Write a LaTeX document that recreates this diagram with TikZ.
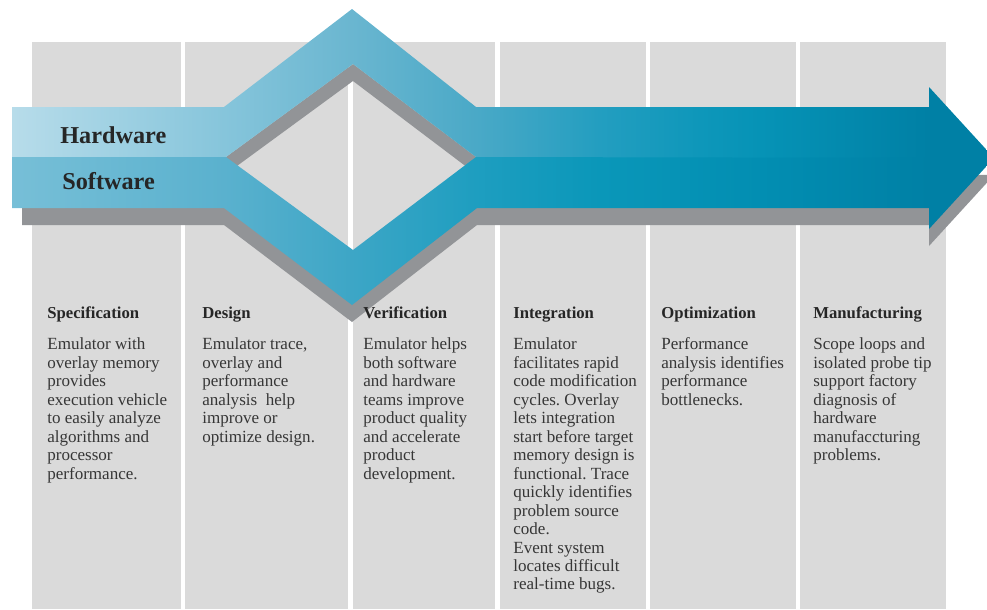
\documentclass[tikz,border=0pt]{standalone}
\usepackage{fontspec}
\setmainfont{Liberation Serif}
\usetikzlibrary{positioning}
\frenchspacing

\definecolor{paper}{HTML}{DADADA}
\definecolor{shadowgray}{HTML}{929497}
\definecolor{bodygray}{HTML}{363636}
\definecolor{headgray}{HTML}{262626}
\definecolor{hwA}{HTML}{B7DCEA}
\definecolor{hwB}{HTML}{86C5DB}
\definecolor{hwC}{HTML}{6AB6D0}
\definecolor{hwD}{HTML}{4AA9C7}
\definecolor{hwE}{HTML}{239EC0}
\definecolor{hwF}{HTML}{0E97BA}
\definecolor{hwG}{HTML}{0693B6}
\definecolor{swA}{HTML}{77BFD7}
\definecolor{swB}{HTML}{5AB1CE}
\definecolor{swC}{HTML}{3DA6C6}
\definecolor{swD}{HTML}{1E9EC0}
\definecolor{swE}{HTML}{0A97B9}
\definecolor{swG}{HTML}{028EB2}
\definecolor{arrEnd}{HTML}{0080A5}

\pgfdeclarehorizontalshading{hwshade}{100bp}{color(0bp)=(hwA); color(25bp)=(hwA);
  color(35.8bp)=(hwB); color(42.3bp)=(hwC); color(48.6bp)=(hwD); color(54.9bp)=(hwE);
  color(60bp)=(hwF); color(63.1bp)=(hwG); color(71.7bp)=(arrEnd); color(100bp)=(arrEnd)}
\pgfdeclarehorizontalshading{swshade}{100bp}{color(0bp)=(swA); color(25bp)=(swA);
  color(35.8bp)=(swB); color(42.3bp)=(swC); color(48.6bp)=(swD); color(54.9bp)=(swE);
  color(63.1bp)=(swG); color(71.7bp)=(arrEnd); color(100bp)=(arrEnd)}

\tikzset{
  phase/.style={anchor=base west, inner sep=0pt, text=headgray,
    font=\bfseries\fontsize{9.5}{11}\selectfont},
  blurb/.style={anchor=north west, inner sep=0pt, align=left, text=bodygray,
    font=\fontsize{9.7}{10.52}\selectfont},
  bandlabel/.style={anchor=base west, inner sep=0pt, text=headgray,
    font=\bfseries\fontsize{13.8}{16}\selectfont}
}

\begin{document}
\begin{tikzpicture}[x=0.02cm, y=-0.02cm]
  \useasboundingbox (0,0) rectangle (987,609);

  % paper columns
  \foreach \l/\r in {32/181, 185/348, 353/495, 500/646, 650/796, 800/946}
    \fill[paper] (\l,42) rectangle (\r,609);

  % shadows
  \fill[shadowgray] (22,174) -- (226,174) -- (353,267) -- (476,174) -- (994,175)
    -- (929,246) -- (929,225) -- (477,225) -- (352,322) -- (224,225) -- (22,225) -- cycle;
  \fill[shadowgray] (226,157) -- (353,64) -- (476,157) -- (476,174) -- (353,81)
    -- (226,174) -- cycle;

  % hardware band (reaches a little under the software band)
  \shade[shading=hwshade] (12,107) -- (224,107) -- (352,9) -- (476,107) -- (929,107)
    -- (929,87) -- (994,158) -- (476,160) -- (476,157) -- (353,64) -- (226,157)
    -- (222,160) -- (12,160) -- cycle;
  % software band
  \shade[shading=swshade] (12,157) -- (226,157) -- (353,250) -- (476,157) -- (994,158)
    -- (929,229) -- (929,208) -- (477,208) -- (352,305) -- (224,208) -- (12,208) -- cycle;

  \node (hw) [bandlabel] at (60,143) {Hardware};
  \node (sw) [bandlabel] at (62,189) {Software};

  % phases
  \node (spec) [phase] at (47,318) {Specification};
  \node (specText) [blurb] at (47,337.5) {Emulator with\\overlay memory\\provides\\execution vehicle\\to easily analyze\\algorithms and\\processor\\performance.};

  \node (design) [phase] at (202,318) {Design};
  \node (designText) [blurb] at (202,337.5) {Emulator trace,\\overlay and\\performance\\analysis~ help\\improve or\\optimize design.};

  \node (verif) [phase] at (363,318) {Verification};
  \node (verifText) [blurb] at (363,337.5) {Emulator helps\\both software\\and hardware\\teams improve\\product quality\\and accelerate\\product\\development.};

  \node (integ) [phase] at (513,318) {Integration};
  \node (integText) [blurb] at (513,337.5) {Emulator\\facilitates rapid\\code modification\\cycles. Overlay\\lets integration\\start before target\\memory design is\\functional. Trace\\quickly identifies\\problem source\\code.\\Event system\\locates difficult\\real-time bugs.};

  \node (optim) [phase] at (661,318) {Optimization};
  \node (optimText) [blurb] at (661,337.5) {Performance\\analysis identifies\\performance\\bottlenecks.};

  \node (manuf) [phase] at (813,318) {Manufacturing};
  \node (manufText) [blurb] at (813,337.5) {Scope loops and\\isolated probe tip\\support factory\\diagnosis of\\hardware\\manufaccturing\\problems.};
\end{tikzpicture}
\end{document}
